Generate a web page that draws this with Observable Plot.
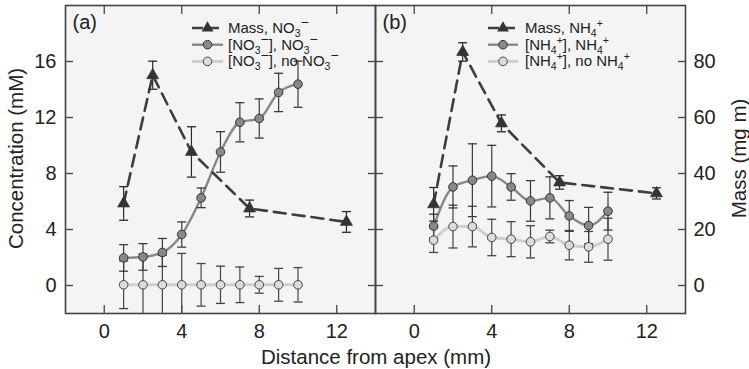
<!DOCTYPE html>
<html><head><meta charset="utf-8">
<script src="https://cdn.jsdelivr.net/npm/d3@7"></script>
<script src="https://cdn.jsdelivr.net/npm/@observablehq/plot@0.6"></script>
<style>body{margin:0;background:#fff}</style>
</head><body><div id="chart"></div>
<script>
// ---- data ----
const distConc = [1, 2, 3, 4, 5, 6, 7, 8, 9, 10];
const distMass = [1, 2.5, 4.5, 7.5, 12.5];
// panel (a): nitrate
const massNO3 = [29.3, 75.1, 47.7, 27.5, 22.7];
const massNO3Err = [6, 5, 9, 3, 3.7];
const concNO3 = [1.97, 2.04, 2.36, 3.64, 6.26, 9.54, 11.66, 11.93, 13.79, 14.38];
const concNO3Err = [0.95, 0.95, 1.0, 0.9, 0.7, 1.45, 1.4, 1.4, 1.37, 1.65];
const concNO3None = [0.05, 0.05, 0.05, 0.05, 0.05, 0.05, 0.05, 0.05, 0.05, 0.05];
const concNO3NoneErr = [1.7, 2.2, 2.1, 2.24, 1.52, 1.33, 1.27, 0.6, 1.17, 1.23];
// panel (b): ammonium
const massNH4 = [29, 83.4, 57.9, 36.8, 32.9];
const massNH4Err = [6, 3.3, 3, 2.4, 2];
const concNH4 = [4.24, 7.04, 7.52, 7.81, 7.04, 6.04, 6.26, 4.97, 4.28, 5.31];
const concNH4Err = [0.85, 1.5, 2.6, 2.2, 0.95, 1.45, 1.5, 1.1, 1.3, 1.35];
const concNH4None = [3.24, 4.21, 4.21, 3.43, 3.31, 3.12, 3.5, 2.88, 2.76, 3.31];
const concNH4NoneErr = [0.88, 1.53, 1.45, 1.3, 1.25, 1.15, 0.45, 1.05, 1.1, 1.5];
// ticks
const xTicks = [0, 4, 8, 12];
const concTicks = [0, 4, 8, 12, 16];
const massPerMM = 5; // right axis: 80 mg m ↔ 16 mM
const panels = ["a", "b"];
const panelLabels = ["(a)", "(b)"];

// ---- table ----
const rows = [];
function add(panel, series, xs, ys, es, k = 1) {
  xs.forEach((x, i) => rows.push({panel, series, x, y: ys[i] / k, lo: (ys[i] - es[i]) / k, hi: (ys[i] + es[i]) / k}));
}
add("a", "mass", distMass, massNO3, massNO3Err, massPerMM);
add("a", "conc", distConc, concNO3, concNO3Err);
add("a", "none", distConc, concNO3None, concNO3NoneErr);
add("b", "mass", distMass, massNH4, massNH4Err, massPerMM);
add("b", "conc", distConc, concNH4, concNH4Err);
add("b", "none", distConc, concNH4None, concNH4NoneErr);
const S = s => rows.filter(d => d.series === s);
const labelRows = panels.map((p, i) => ({panel: p, label: panelLabels[i]}));

const cap = {draw(ctx) { ctx.moveTo(-4.5, 0); ctx.lineTo(4.5, 0); }};
const errMarks = (data, stroke) => [
  Plot.ruleX(data, {fx: "panel", x: "x", y1: "lo", y2: "hi", stroke, strokeWidth: 1.2, clip: true}),
  Plot.dot(data, {fx: "panel", x: "x", y: "lo", symbol: cap, fill: "none", stroke, strokeWidth: 1.3, clip: true}),
  Plot.dot(data, {fx: "panel", x: "x", y: "hi", symbol: cap, fill: "none", stroke, strokeWidth: 1.3, clip: true})
];
const blank = () => "";

const svg = Plot.plot({
  width: 749, height: 369,
  marginLeft: 65, marginRight: 64, marginTop: 5, marginBottom: 56,
  style: {fontFamily: "'Liberation Sans', Arial, sans-serif", fontSize: "20px", color: "#222", background: "#fff"},
  fx: {domain: panels, padding: 0, axis: null},
  x: {domain: [-2, 14]},
  y: {domain: [-2, 20]},
  marks: [
    Plot.frame({fill: "#f4f4f4"}),
    Plot.line(S("none"), {fx: "panel", x: "x", y: "y", stroke: "#cfcfcf", strokeWidth: 3, curve: "monotone-x"}),
    Plot.line(S("conc"), {fx: "panel", x: "x", y: "y", stroke: "#888", strokeWidth: 2.4, curve: "monotone-x"}),
    ...errMarks(S("none"), "#444"),
    ...errMarks(S("conc"), "#3a3a3a"),
    Plot.line(S("mass"), {fx: "panel", x: "x", y: "y", stroke: "#3d3d3d", strokeWidth: 2.6, strokeDasharray: "12,7"}),
    ...errMarks(S("mass"), "#2a2a2a"),
    Plot.dot(S("none"), {fx: "panel", x: "x", y: "y", r: 4.3, fill: "#dcdcdc", stroke: "#444", strokeWidth: 1}),
    Plot.dot(S("conc"), {fx: "panel", x: "x", y: "y", r: 4.3, fill: "#888", stroke: "#333", strokeWidth: 1}),
    Plot.dot(S("mass"), {fx: "panel", x: "x", y: "y", r: 4.4, symbol: "triangle", fill: "#333", stroke: "#333", strokeWidth: 0.8}),
    Plot.text(labelRows, {fx: "panel", text: "label", frameAnchor: "top-left", textAnchor: "start", lineAnchor: "top", dx: 7, dy: 9, fontSize: 20, fill: "#222"}),
    // inward ticks on all sides
    Plot.axisX({anchor: "bottom", ticks: xTicks, tickSize: -8, tickPadding: 18, label: null, stroke: "#444", strokeWidth: 1.3}),
    Plot.axisX({anchor: "top", ticks: xTicks, tickSize: -8, tickFormat: blank, label: null, stroke: "#444", strokeWidth: 1.3}),
    Plot.axisY({anchor: "left", ticks: concTicks, tickSize: -8, tickFormat: blank, label: null, facetAnchor: null, stroke: "#444", strokeWidth: 1.3}),
    Plot.axisY({anchor: "right", ticks: concTicks, tickSize: -8, tickFormat: blank, label: null, facetAnchor: null, stroke: "#444", strokeWidth: 1.3}),
    Plot.axisY({anchor: "left", ticks: concTicks, tickSize: 0, tickPadding: 9, label: null}),
    Plot.axisY({anchor: "right", ticks: concTicks, tickSize: 0, tickPadding: 8, tickFormat: d => d * massPerMM, label: null}),
    Plot.frame({stroke: "#444", strokeWidth: 1.6})
  ]
});

// ---- titles and legends ----
const g = d3.select(svg);
const ff = "'Liberation Sans', Arial, sans-serif";
g.append("text").attr("transform", "translate(22.5,158.5) rotate(-90)").attr("text-anchor", "middle")
  .attr("font-size", 20.5).attr("font-family", ff).attr("fill", "#222").text("Concentration (mM)");
g.append("text").attr("transform", "translate(745.5,158.5) rotate(-90)").attr("text-anchor", "middle")
  .attr("font-size", 20.5).attr("font-family", ff).attr("fill", "#222").text("Mass (mg m)");
g.append("text").attr("x", 376).attr("y", 364).attr("text-anchor", "middle")
  .attr("font-size", 20.5).attr("font-family", ff).attr("fill", "#222").text("Distance from apex (mm)");

function richText(sel, parts) {
  let off = 0;
  parts.forEach(([kind, str]) => {
    const t = sel.append("tspan").text(str);
    if (kind === "t") { t.attr("dy", -off); off = 0; }
    else if (kind === "sub") { t.attr("dy", 4 - off).attr("font-size", 10.5); off = 4; }
    else if (kind === "sup") { t.attr("dy", -6 - off).attr("font-size", str === "−" ? 14 : 10.5); off = -6; }
  });
}
function legend(x0, x1, tx, ion, chg) {
  const mx = (x0 + x1) / 2;
  const items = [
    {base: 33, type: "mass", parts: [["t", "Mass, " + ion], ["sub", chg[0]], ["sup", chg[1]]]},
    {base: 49.7, type: "conc", parts: [["t", "[" + ion], ["sub", chg[0]], ["sup", chg[1]], ["t", "], " + ion], ["sub", chg[0]], ["sup", chg[1]]]},
    {base: 66.4, type: "none", parts: [["t", "[" + ion], ["sub", chg[0]], ["sup", chg[1]], ["t", "], no " + ion], ["sub", chg[0]], ["sup", chg[1]]]}
  ];
  items.forEach(it => {
    const cy = it.base - 5;
    if (it.type === "mass") {
      g.append("line").attr("x1", x0).attr("x2", x1).attr("y1", cy).attr("y2", cy)
        .attr("stroke", "#3d3d3d").attr("stroke-width", 2.6).attr("stroke-dasharray", "11,5");
      g.append("path").attr("d", d3.symbol(d3.symbolTriangle, Math.PI * 4.4 * 4.4)()).attr("transform", `translate(${mx},${cy})`).attr("fill", "#333");
    } else {
      const dark = it.type === "conc";
      g.append("line").attr("x1", x0).attr("x2", x1).attr("y1", cy).attr("y2", cy)
        .attr("stroke", dark ? "#888" : "#cfcfcf").attr("stroke-width", dark ? 2.4 : 3);
      g.append("circle").attr("cx", mx).attr("cy", cy).attr("r", 4.3)
        .attr("fill", dark ? "#888" : "#dcdcdc").attr("stroke", dark ? "#333" : "#444");
    }
    const t = g.append("text").attr("x", tx).attr("y", it.base).attr("text-anchor", "start")
      .attr("font-size", 15).attr("font-family", ff).attr("fill", "#222");
    richText(t, it.parts);
  });
}
legend(192, 223, 228, "NO", ["3", "−"]);
legend(488, 518, 525, "NH", ["4", "+"]);

document.getElementById("chart").appendChild(svg);
</script>
</body></html>
